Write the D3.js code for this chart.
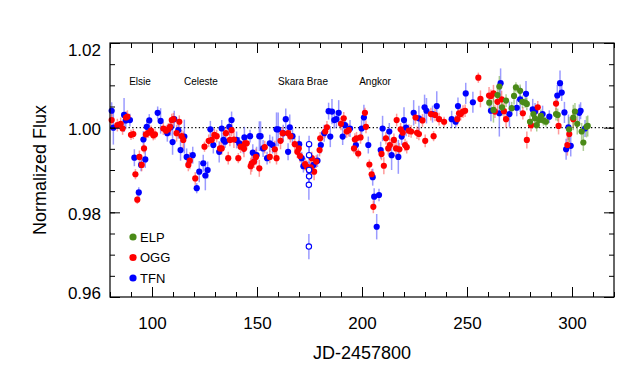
<!DOCTYPE html>
<html lang="en">
<head>
<meta charset="UTF-8">
<script src="https://d3js.org/d3.v7.min.js"></script>
<style>
    body { margin: 0; background: #fff; }
    text { font-family: "Liberation Sans", Arial, sans-serif; fill: #000; }
</style>
<title>Normalized Flux</title>
</head>
<body>
<svg width="630" height="385"></svg>
<script>

// TFN (blue)
var tfnDay = [80.8, 81.6, 86.7, 87.5, 89.5, 91.6, 93.7, 94.8, 95.9, 96.8, 97.5, 98.7, 102.7, 104.1, 107.3, 108.9, 109.8, 110.6,
    112.5, 113.6, 115.4, 116.5, 119.4, 121.3, 122.5, 124.4, 125.4, 126.5, 127.8, 129.2, 132.0, 133.2, 134.0, 134.8, 136.8, 137.9,
    140.3, 141.6, 143.5, 144.0, 146.7, 148.0, 149.8, 151.1, 151.7, 152.9, 154.8, 156.1, 157.4, 159.3, 160.1, 162.5, 163.7, 164.8,
    165.6, 166.9, 170.1, 171.3, 172.1, 176.9, 178.8, 180.4, 182.0, 184.1, 184.9, 185.7, 186.8, 187.8, 188.9, 190.8, 191.9, 194.3,
    197.1, 199.8, 200.9, 203.0, 205.1, 205.8, 207.0, 208.1, 208.9, 209.8, 213.0, 214.1, 217.3, 218.9, 220.0, 221.0, 224.6, 227.1,
    229.8, 230.7, 233.6, 235.6, 242.7, 244.6, 245.7, 249.4, 252.8, 261.4, 265.4, 266.0, 270.2, 273.7, 275.3, 278.1, 281.3, 282.4,
    286.0, 289.2, 293.0, 294.3, 295.1, 296.4, 297.2, 298.3, 299.4, 303.5, 304.1, 306.2];
var tfnFlux = [1.0040, 1.0000, 1.0030, 1.0017, 1.0018, 0.9929, 0.9847, 0.9912, 0.9972, 0.9925, 1.0002, 1.0017, 1.0035, 1.0016, 0.9987, 1.0001, 0.9966, 1.0020,
    0.9994, 0.9947, 0.9979, 0.9931, 0.9935, 0.9857, 0.9896, 0.9916, 0.9887, 0.9900, 0.9996, 0.9959, 0.9943, 0.9998, 0.9971, 0.9967, 1.0002, 1.0018,
    0.9971, 0.9963, 0.9959, 0.9977, 0.9980, 0.9941, 0.9935, 0.9980, 0.9980, 0.9951, 0.9928, 0.9963, 0.9959, 0.9996, 0.9996, 0.9987, 1.0020, 0.9943,
    1.0001, 0.9980, 0.9961, 0.9928, 0.9909, 0.9912, 0.9922, 0.9959, 0.9987, 1.0039, 0.9979, 1.0038, 1.0018, 1.0020, 1.0035, 0.9979, 1.0006, 0.9998,
    0.9959, 0.9998, 1.0024, 0.9959, 0.9883, 0.9837, 0.9766, 0.9841, 0.9947, 0.9998, 0.9991, 0.9935, 0.9931, 0.9979, 1.0018, 1.0000, 1.0035, 1.0022,
    1.0048, 1.0040, 1.0032, 1.0051, 1.0020, 1.0014, 1.0051, 1.0081, 1.0060, 1.0040, 1.0034, 1.0105, 1.0032, 1.0047, 1.0067, 1.0080, 1.0043, 1.0038,
    1.0032, 1.0026, 1.0076, 1.0105, 1.0083, 1.0036, 0.9949, 1.0001, 0.9957, 1.0035, 1.0040, 0.9998];
var tfnErr = [0.0020, 0.0040, 0.0040, 0.0020, 0.0015, 0.0020, 0.0012, 0.0015, 0.0020, 0.0020, 0.0015, 0.0015, 0.0015, 0.0030, 0.0020, 0.0020, 0.0030, 0.0020,
    0.0020, 0.0025, 0.0040, 0.0020, 0.0020, 0.0012, 0.0025, 0.0020, 0.0035, 0.0020, 0.0020, 0.0020, 0.0025, 0.0020, 0.0015, 0.0015, 0.0020, 0.0020,
    0.0020, 0.0015, 0.0020, 0.0025, 0.0015, 0.0020, 0.0020, 0.0035, 0.0035, 0.0020, 0.0015, 0.0020, 0.0020, 0.0040, 0.0040, 0.0020, 0.0025, 0.0020,
    0.0030, 0.0020, 0.0020, 0.0015, 0.0015, 0.0020, 0.0015, 0.0020, 0.0020, 0.0020, 0.0025, 0.0030, 0.0020, 0.0020, 0.0030, 0.0020, 0.0015, 0.0020,
    0.0020, 0.0020, 0.0030, 0.0020, 0.0020, 0.0020, 0.0030, 0.0015, 0.0020, 0.0030, 0.0020, 0.0035, 0.0040, 0.0020, 0.0030, 0.0020, 0.0030, 0.0030,
    0.0030, 0.0030, 0.0020, 0.0035, 0.0020, 0.0015, 0.0020, 0.0025, 0.0025, 0.0025, 0.0055, 0.0035, 0.0030, 0.0020, 0.0030, 0.0030, 0.0025, 0.0020,
    0.0020, 0.0015, 0.0025, 0.0030, 0.0020, 0.0025, 0.0025, 0.0030, 0.0025, 0.0020, 0.0020, 0.0020];

// TFN points drawn as open circles
var tfnOpenDay = [174.8, 174.8, 174.8, 174.8, 174.7, 174.7];
var tfnOpenFlux = [0.9961, 0.9935, 0.9900, 0.9885, 0.9865, 0.9719];
var tfnOpenErr = [0.0020, 0.0020, 0.0020, 0.0020, 0.0035, 0.0030];

// OGG (red)
var oggDay = [80.8, 83.5, 85.1, 86.0, 87.6, 88.3, 90.0, 91.1, 92.1, 93.0, 94.0, 95.1, 96.2, 97.1, 98.3, 99.5, 100.6, 101.4,
    105.4, 106.7, 107.8, 108.6, 109.4, 110.2, 111.7, 113.0, 114.1, 114.9, 117.3, 118.0, 120.6, 125.0, 127.0, 128.4, 129.7, 130.8,
    132.4, 133.2, 135.2, 136.3, 137.1, 137.9, 139.0, 141.1, 142.2, 143.8, 144.3, 145.1, 147.0, 147.5, 148.6, 149.5, 151.1, 153.7,
    156.1, 158.5, 159.3, 161.2, 162.2, 164.8, 165.9, 168.0, 169.2, 169.9, 170.5, 172.9, 173.7, 175.6, 176.1, 177.2, 178.2, 179.8,
    180.1, 182.5, 183.3, 190.0, 191.3, 192.7, 193.7, 196.2, 196.6, 197.4, 198.2, 199.3, 201.4, 201.9, 203.5, 204.6, 205.4, 209.3,
    210.4, 211.4, 212.5, 213.3, 215.2, 216.2, 216.5, 217.8, 218.4, 219.4, 220.5, 221.3, 222.3, 223.4, 225.5, 226.2, 227.1, 228.8,
    230.1, 232.8, 234.1, 234.8, 236.7, 239.1, 245.4, 246.2, 247.0, 248.1, 249.1, 255.4, 256.4, 260.5, 261.4, 262.6, 263.3, 264.5,
    266.5, 267.6, 268.6, 276.6, 278.5, 280.5, 283.7, 292.4, 293.6, 297.8, 298.7, 300.6];
var oggFlux = [1.0018, 1.0006, 1.0009, 0.9998, 1.0024, 1.0026, 0.9983, 0.9985, 0.9890, 0.9830, 0.9931, 0.9912, 0.9951, 0.9984, 0.9988, 0.9993, 0.9982, 0.9984,
    0.9998, 0.9993, 0.9996, 1.0002, 1.0018, 1.0020, 0.9987, 1.0014, 0.9980, 0.9971, 0.9912, 0.9922, 0.9880, 0.9955, 0.9969, 0.9971, 0.9983, 0.9980,
    0.9951, 0.9951, 0.9987, 0.9928, 0.9971, 0.9994, 0.9972, 0.9928, 0.9955, 0.9950, 0.9963, 0.9963, 0.9909, 0.9916, 0.9920, 0.9931, 0.9904, 0.9954,
    0.9931, 0.9949, 0.9928, 0.9969, 0.9987, 0.9987, 0.9980, 0.9961, 0.9943, 0.9951, 0.9933, 0.9914, 0.9908, 0.9906, 0.9928, 0.9896, 0.9920, 0.9947,
    0.9975, 0.9991, 1.0001, 1.0009, 1.0022, 0.9991, 0.9994, 0.9951, 0.9972, 0.9975, 0.9939, 0.9977, 1.0035, 1.0002, 0.9913, 0.9890, 0.9813, 0.9938,
    0.9910, 0.9975, 0.9951, 0.9959, 0.9971, 0.9951, 1.0018, 0.9949, 0.9996, 0.9988, 0.9959, 0.9954, 0.9993, 0.9991, 1.0024, 0.9988, 0.9985, 1.0017,
    0.9969, 1.0032, 0.9980, 1.0030, 1.0020, 1.0014, 1.0020, 1.0034, 1.0032, 1.0038, 1.0040, 1.0118, 1.0068, 1.0076, 1.0075, 1.0081, 1.0038, 1.0061,
    1.0067, 1.0039, 1.0020, 1.0034, 0.9971, 1.0006, 1.0048, 1.0057, 1.0004, 0.9959, 0.9985, 1.0020];
var oggErr = [0.0020, 0.0015, 0.0015, 0.0015, 0.0015, 0.0015, 0.0012, 0.0012, 0.0012, 0.0010, 0.0015, 0.0015, 0.0012, 0.0012, 0.0012, 0.0012, 0.0012, 0.0012,
    0.0015, 0.0012, 0.0015, 0.0015, 0.0015, 0.0015, 0.0020, 0.0015, 0.0015, 0.0020, 0.0015, 0.0020, 0.0015, 0.0012, 0.0015, 0.0012, 0.0015, 0.0015,
    0.0015, 0.0015, 0.0015, 0.0015, 0.0015, 0.0015, 0.0020, 0.0012, 0.0015, 0.0020, 0.0015, 0.0015, 0.0020, 0.0020, 0.0015, 0.0020, 0.0020, 0.0015,
    0.0015, 0.0020, 0.0015, 0.0020, 0.0015, 0.0015, 0.0015, 0.0015, 0.0015, 0.0020, 0.0015, 0.0015, 0.0015, 0.0015, 0.0015, 0.0020, 0.0015, 0.0015,
    0.0015, 0.0015, 0.0015, 0.0015, 0.0015, 0.0015, 0.0015, 0.0012, 0.0015, 0.0015, 0.0012, 0.0015, 0.0012, 0.0015, 0.0012, 0.0012, 0.0015, 0.0015,
    0.0020, 0.0015, 0.0015, 0.0015, 0.0015, 0.0020, 0.0015, 0.0015, 0.0015, 0.0015, 0.0015, 0.0015, 0.0015, 0.0015, 0.0015, 0.0015, 0.0015, 0.0015,
    0.0015, 0.0015, 0.0012, 0.0015, 0.0015, 0.0012, 0.0015, 0.0015, 0.0015, 0.0015, 0.0015, 0.0012, 0.0020, 0.0020, 0.0015, 0.0020, 0.0015, 0.0020,
    0.0020, 0.0020, 0.0020, 0.0015, 0.0020, 0.0015, 0.0015, 0.0020, 0.0020, 0.0025, 0.0020, 0.0020];

// ELP (green)
var elpDay = [260.6, 262.6, 264.5, 265.4, 266.7, 268.6, 271.3, 272.4, 273.3, 275.3, 276.4, 277.7, 278.5, 280.0, 281.6, 282.4,
    283.2, 284.3, 285.2, 286.4, 287.6, 292.4, 293.2, 298.6, 300.6, 301.4, 302.5, 304.6, 305.4, 306.9, 307.5];
var elpFlux = [1.0059, 1.0042, 1.0077, 1.0097, 1.0048, 1.0064, 1.0046, 1.0075, 1.0095, 1.0087, 1.0061, 1.0059, 1.0056, 1.0014, 1.0032, 1.0022,
    1.0006, 1.0018, 1.0028, 1.0017, 1.0014, 1.0032, 1.0030, 0.9996, 1.0024, 1.0038, 1.0009, 0.9991, 0.9965, 1.0002, 1.0004];
var elpErr = [0.0020, 0.0030, 0.0020, 0.0025, 0.0020, 0.0015, 0.0015, 0.0020, 0.0012, 0.0015, 0.0015, 0.0012, 0.0015, 0.0015, 0.0015, 0.0015,
    0.0015, 0.0015, 0.0015, 0.0012, 0.0012, 0.0015, 0.0015, 0.0030, 0.0030, 0.0020, 0.0025, 0.0020, 0.0020, 0.0025, 0.0025];

// event labels
var eventNames = ["Elsie", "Celeste", "Skara Brae", "Angkor"];
var eventDays = [94.3, 123.3, 171.9, 206.2];

var legendNames = ["ELP", "OGG", "TFN"];
var legendColors = ["#4a8a17", "#ff0000", "#0000ff"];

var svg = d3.select("svg"),
    plotLeft = 110, plotRight = 614, plotTop = 43, plotBottom = 297;

var x = d3.scaleLinear().domain([80, 320]).range([plotLeft, plotRight]);
var y = d3.scaleLinear().domain([0.96, 1.02]).range([plotBottom, plotTop]);

function zipSeries(days, flux, err) {
    return days.map(function(d, i) { return {day: d, flux: flux[i], err: err[i]}; });
}

var series = [
    {name: "TFN", color: "#0000ff", bar: "#4848ff", data: zipSeries(tfnDay, tfnFlux, tfnErr)},
    {name: "OGG", color: "#ff0000", bar: "#ff4848", data: zipSeries(oggDay, oggFlux, oggErr)},
    {name: "ELP", color: "#4a8a17", bar: "#6aa63a", data: zipSeries(elpDay, elpFlux, elpErr)}
];
var openPts = zipSeries(tfnOpenDay, tfnOpenFlux, tfnOpenErr);

// dotted line at 1.0
svg.append("line")
    .attr("x1", plotLeft).attr("x2", plotRight)
    .attr("y1", y(1)).attr("y2", y(1))
    .attr("stroke", "#000").attr("stroke-width", 1.2)
    .attr("stroke-dasharray", "1.3,2.4");

// error bars
function bars(g, data, color) {
    g.selectAll("line")
        .data(data).enter().append("line")
        .attr("x1", function(d) { return x(d.day); })
        .attr("x2", function(d) { return x(d.day); })
        .attr("y1", function(d) { return y(d.flux - d.err); })
        .attr("y2", function(d) { return y(d.flux + d.err); })
        .attr("stroke", color).attr("stroke-opacity", 0.55).attr("stroke-width", 1.5);
}
series.forEach(function(s) { bars(svg.append("g"), s.data, s.bar); });
bars(svg.append("g"), openPts, "#4848ff");

// points
series.forEach(function(s) {
    svg.append("g").selectAll("circle")
        .data(s.data).enter().append("circle")
        .attr("cx", function(d) { return x(d.day); })
        .attr("cy", function(d) { return y(d.flux); })
        .attr("r", 3.1)
        .attr("fill", s.color);
});
svg.append("g").selectAll("circle")
    .data(openPts).enter().append("circle")
    .attr("cx", function(d) { return x(d.day); })
    .attr("cy", function(d) { return y(d.flux); })
    .attr("r", 2.7)
    .attr("fill", "#fff").attr("stroke", "#0000ff").attr("stroke-width", 1.1);

// axes, ticks pointing inward on all four sides
function tidy(g) { g.select(".domain").remove(); g.selectAll("line").attr("stroke", "#000"); }

var xMajor = [100, 150, 200, 250, 300], xMinor = d3.range(80, 321, 10);
var yMajor = [0.96, 0.98, 1.00, 1.02], yMinor = d3.range(0.96, 1.0201, 0.005);

var xb = svg.append("g").attr("transform", "translate(0," + plotBottom + ")");
xb.append("g").call(d3.axisBottom(x).tickValues(xMinor).tickSize(-5).tickFormat("")).call(tidy);
xb.append("g").call(d3.axisBottom(x).tickValues(xMajor).tickSize(-10).tickPadding(20).tickFormat(d3.format("d"))).call(tidy);
var xt = svg.append("g").attr("transform", "translate(0," + plotTop + ")");
xt.append("g").call(d3.axisTop(x).tickValues(xMinor).tickSize(-5).tickFormat("")).call(tidy);
xt.append("g").call(d3.axisTop(x).tickValues(xMajor).tickSize(-10).tickFormat("")).call(tidy);

var yl = svg.append("g").attr("transform", "translate(" + plotLeft + ",0)");
yl.append("g").call(d3.axisLeft(y).tickValues(yMinor).tickSize(-5).tickFormat("")).call(tidy);
yl.append("g").call(d3.axisLeft(y).tickValues(yMajor).tickSize(-10).tickPadding(9).tickFormat(d3.format(".2f"))).call(tidy);
var yr = svg.append("g").attr("transform", "translate(" + plotRight + ",0)");
yr.append("g").call(d3.axisRight(y).tickValues(yMinor).tickSize(-5).tickFormat("")).call(tidy);
yr.append("g").call(d3.axisRight(y).tickValues(yMajor).tickSize(-10).tickFormat("")).call(tidy);

svg.selectAll(".tick text").attr("font-size", 17).attr("font-family", "Liberation Sans, Arial, sans-serif").attr("fill", "#000");
// keep end labels inside the frame
yl.selectAll(".tick text").attr("dy", function(d) { return d > 1.01 ? "0.75em" : (d < 0.97 ? "0.1em" : "0.4em"); });

svg.append("rect")
    .attr("x", plotLeft).attr("y", plotTop)
    .attr("width", plotRight - plotLeft).attr("height", plotBottom - plotTop)
    .attr("fill", "none").attr("stroke", "#000").attr("stroke-width", 1.2);

// axis titles
svg.append("text")
    .attr("x", (plotLeft + plotRight) / 2).attr("y", 359)
    .attr("text-anchor", "middle").attr("font-size", 18)
    .text("JD-2457800");
svg.append("text")
    .attr("transform", "translate(46," + (plotTop + plotBottom) / 2 + ") rotate(-90)")
    .attr("text-anchor", "middle").attr("font-size", 18)
    .text("Normalized Flux");

// event names
svg.append("g").selectAll("text")
    .data(eventNames).enter().append("text")
    .attr("x", function(d, i) { return x(eventDays[i]); })
    .attr("y", y(1.0108))
    .attr("dy", "0.35em")
    .attr("text-anchor", "middle").attr("font-size", 10)
    .text(function(d) { return d; });

// legend
var legend = svg.append("g").selectAll("g")
    .data(legendNames).enter().append("g")
    .attr("transform", function(d, i) { return "translate(133," + (237 + i * 20.5) + ")"; });
legend.append("circle").attr("r", 3.6).attr("fill", function(d, i) { return legendColors[i]; });
legend.append("text").attr("x", 7).attr("dy", "0.36em").attr("font-size", 13)
    .text(function(d) { return d; });

</script>
</body>
</html>
